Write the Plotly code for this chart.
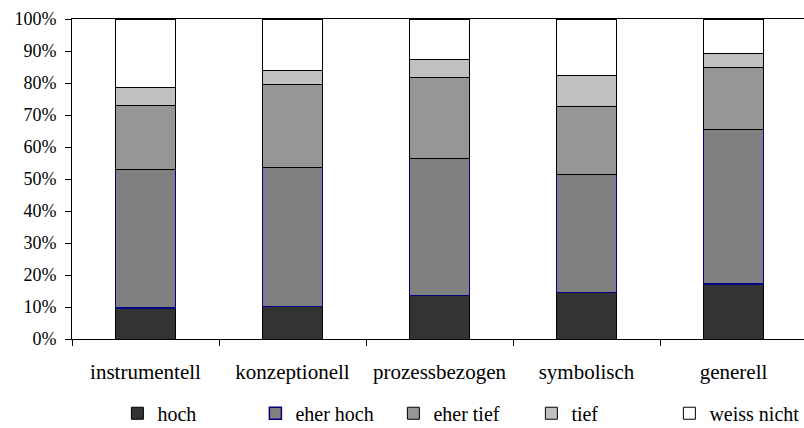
import plotly.graph_objects as go

categories = ["instrumentell", "konzeptionell", "prozessbezogen", "symbolisch", "generell"]

hoch = [9.7, 10.1, 13.6, 14.5, 17.2]
eher_hoch = [43.3, 43.5, 42.9, 37.0, 48.4]
eher_tief = [20.1, 25.8, 25.2, 21.2, 19.3]
tief = [5.4, 4.4, 5.5, 9.5, 4.4]
weiss_nicht = [21.5, 16.2, 12.8, 17.8, 10.7]

# name, values, fill colour, outline colour, outline width
series = [
    ("hoch", hoch, "#333333", "#000000", 1),
    ("eher hoch", eher_hoch, "#808080", "#000080", 1.5),
    ("eher tief", eher_tief, "#969696", "#000000", 1),
    ("tief", tief, "#C0C0C0", "#000000", 1),
    ("weiss nicht", weiss_nicht, "#FFFFFF", "#000000", 1),
]

y_ticks = list(range(0, 101, 10))
y_labels = [f"{v}%" for v in y_ticks]

FONT = "Liberation Serif, Times New Roman, serif"

fig = go.Figure()
for name, vals, fill, edge, lw in series:
    fig.add_trace(go.Bar(
        x=categories, y=vals, name=name,
        marker=dict(color=fill, line=dict(color=edge, width=lw)),
    ))

fig.update_layout(
    barmode="stack",
    bargap=0.592,
    width=804, height=428,
    margin=dict(l=72, r=0, t=19, b=89, autoexpand=False),
    paper_bgcolor="white", plot_bgcolor="white",
    font=dict(family=FONT, size=18, color="black"),
    showlegend=True,
    legend=dict(
        orientation="h", x=0.062, xanchor="left", y=-0.232, yanchor="middle",
        font=dict(family=FONT, size=20, color="black"),
        entrywidth=93, entrywidthmode="pixels",
        traceorder="normal",
    ),
)

fig.update_xaxes(
    type="category", range=[-0.5, 732 / 147 - 0.5],
    showline=True, linecolor="black", linewidth=1, mirror=True,
    ticks="outside", ticklen=6, tickcolor="black", tickson="boundaries",
    showgrid=False, zeroline=False,
    tickfont=dict(family=FONT, size=21),
    ticklabelstandoff=14,
)
fig.update_yaxes(
    range=[0, 100], tickvals=y_ticks, ticktext=y_labels,
    showline=True, linecolor="black", linewidth=1,
    ticks="outside", ticklen=6, tickcolor="black",
    showgrid=False, zeroline=False,
    tickfont=dict(family=FONT, size=18),
    ticklabelstandoff=5,
)

fig.write_html("out.html")
